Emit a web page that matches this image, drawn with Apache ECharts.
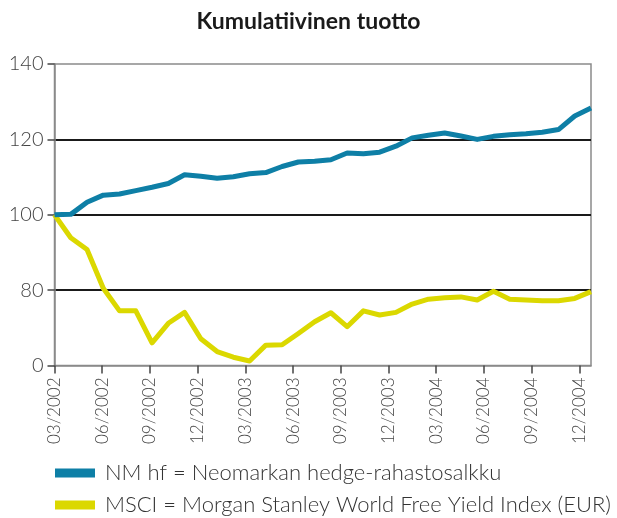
<!DOCTYPE html>
<html>
<head>
<meta charset="utf-8">
<script src="https://cdn.jsdelivr.net/npm/echarts@6/dist/echarts.min.js"></script>
<style>
  html, body { margin: 0; padding: 0; background: #fff; }
  #chart { width: 617px; height: 518px; }
</style>
</head>
<body>
<div id="chart"></div>
<script>
// kuukausittaiset arvot 03/2002 - 12/2004, alku = 100
const tickLabels = ['03/2002', '06/2002', '09/2002', '12/2002', '03/2003', '06/2003',
  '09/2003', '12/2003', '03/2004', '06/2004', '09/2004', '12/2004']

const nmHf = [100, 100.1, 103.3, 105.2, 105.5, 106.4, 107.3, 108.3, 110.6, 110.2,
  109.7, 110.1, 110.9, 111.2, 112.8, 114.0, 114.2, 114.6, 116.4, 116.2,
  116.6, 118.2, 120.4, 121.1, 121.7, 120.9, 120.0, 120.8, 121.2, 121.5,
  121.9, 122.6, 126.2, 128.3]

const msci = [100, 93.9, 90.8, 80.5, 74.5, 74.5, 66.0, 71.2, 74.1, 67.1,
  63.7, 62.2, 61.2, 65.4, 65.5, 68.5, 71.6, 74.0, 70.3, 74.5,
  73.4, 74.1, 76.3, 77.6, 78.0, 78.2, 77.4, 79.7, 77.6, 77.4,
  77.2, 77.2, 77.8, 79.6]

const seriesNames = ['NM hf = Neomarkan hedge-rahastosalkku',
  'MSCI = Morgan Stanley World Free Yield Index (EUR)']

// x-akselin merkit eivät osu tarkalleen datapisteisiin
const tickStep = 2.935
const tickPos = tickLabels.map((_, k) => +(k * tickStep).toFixed(3))

const font = 'Lato, "Open Sans", sans-serif'

let chartDom = document.getElementById('chart')
let myChart = echarts.init(chartDom, null, { renderer: 'canvas' })

const legendText = { fontFamily: font, fontSize: 22, fontWeight: 300, color: '#333', padding: [0, 0, 0, 5] }

let option = {
  animation: false,
  backgroundColor: '#fff',
  title: {
    text: 'Kumulatiivinen tuotto',
    left: 'center',
    top: 5,
    textStyle: { fontFamily: font, fontSize: 23, fontWeight: 'bold', color: '#1a1a1a' }
  },
  // kaksi selitettä allekkain
  legend: [
    {
      left: 50,
      top: 457,
      itemWidth: 40,
      itemHeight: 9,
      icon: 'rect',
      data: [seriesNames[0]],
      textStyle: legendText
    },
    {
      left: 50,
      top: 489,
      itemWidth: 40,
      itemHeight: 9,
      icon: 'rect',
      data: [seriesNames[1]],
      textStyle: legendText
    }
  ],
  grid: {
    left: 54.5,
    right: 26,
    top: 64,
    bottom: 152.5,
    show: true,
    borderColor: '#8a8a8a',
    borderWidth: 1.5,
    containLabel: false
  },
  xAxis: {
    type: 'value',
    min: 0,
    max: nmHf.length - 1,
    axisLine: { show: true, lineStyle: { color: '#8a8a8a', width: 1.5 } },
    axisTick: { show: true, customValues: tickPos, length: 8, lineStyle: { color: '#444', width: 1.5 } },
    axisLabel: {
      customValues: tickPos,
      rotate: 90,
      margin: 12,
      fontFamily: font,
      fontSize: 17,
      fontWeight: 300,
      color: '#444',
      formatter: v => tickLabels[Math.round(v / tickStep)] || ''
    },
    splitLine: { show: false }
  },
  yAxis: {
    type: 'value',
    min: 60,
    max: 140,
    interval: 20,
    axisLine: { show: true, lineStyle: { color: '#8a8a8a', width: 1.5 } },
    axisTick: { show: true, length: 7, lineStyle: { color: '#444', width: 1.5 } },
    axisLabel: {
      margin: 11,
      fontFamily: font,
      fontSize: 20,
      fontWeight: 300,
      color: '#444',
      formatter: v => (v === 60 ? '0' : String(v))
    },
    splitLine: {
      show: true,
      showMinLine: false,
      showMaxLine: false,
      lineStyle: { color: '#1a1a1a', width: 2 }
    }
  },
  series: [
    {
      name: seriesNames[0],
      type: 'line',
      data: nmHf.map((v, i) => [i, v]),
      showSymbol: false,
      color: '#0e7fa6',
      lineStyle: { width: 5, color: '#0e7fa6', join: 'round' },
      z: 3
    },
    {
      name: seriesNames[1],
      type: 'line',
      data: msci.map((v, i) => [i, v]),
      showSymbol: false,
      color: '#dbd800',
      lineStyle: { width: 5, color: '#dbd800', join: 'round' },
      z: 2
    }
  ]
}

myChart.setOption(option)
</script>
</body>
</html>
